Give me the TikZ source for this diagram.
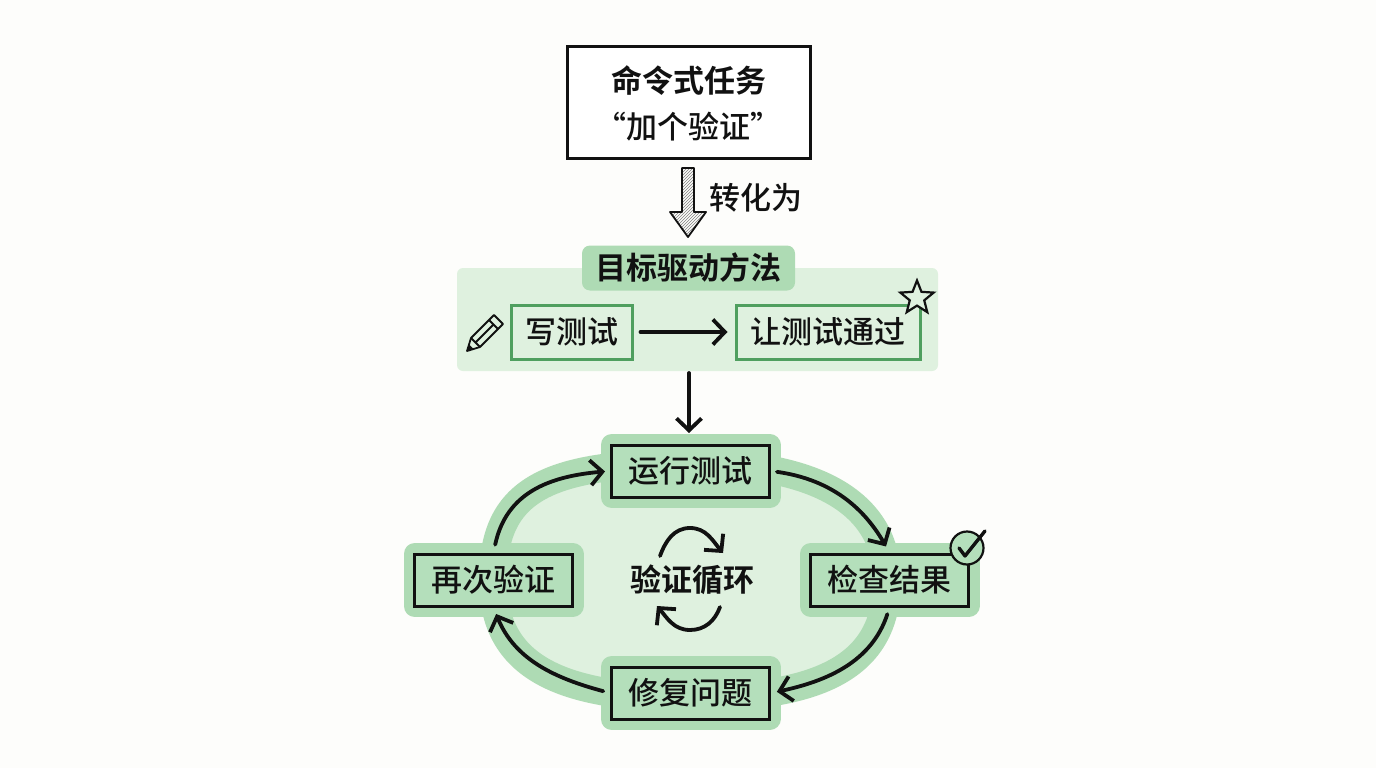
\documentclass[tikz,border=0pt]{standalone}
\usepackage{fontspec}
\setmainfont{Noto Sans CJK SC Medium}[BoldFont=Noto Sans CJK SC Bold]
\usetikzlibrary{arrows.meta,calc,positioning,patterns,shapes.geometric}
\definecolor{paper}{HTML}{FDFDFB}
\definecolor{ringgreen}{HTML}{AEDBB4}
\definecolor{palegreen}{HTML}{DFF1DF}
\definecolor{boxgreen}{HTML}{B4DFBB}
\definecolor{edgegreen}{HTML}{4F9F5F}
\definecolor{inkblack}{HTML}{111111}

\begin{document}
\begin{tikzpicture}[x=1pt,y=-1pt,>={Straight Barb[length=12pt,width=25pt]},
    label/.style={font=\fontsize{31}{36}\selectfont,text=inkblack,inner sep=0pt},
    heavy/.style={label,font=\fontsize{31}{36}\selectfont\bfseries},
    loopbox/.style={label,draw=inkblack,fill=boxgreen,line width=3pt,
      minimum width=158pt,minimum height=52pt,
      preaction={draw=ringgreen,line width=22pt,line join=round}},
    stepbox/.style={label,draw=edgegreen,line width=3pt,minimum height=54pt},
    flow/.style={->,draw=inkblack,line width=3.8pt,line cap=round},
    thin ink/.style={draw=inkblack,line width=1.8pt,line join=round}]

  \fill[paper] (0,0) rectangle (1376,768);
  \useasboundingbox (0,0) rectangle (1376,768);

  % top task
  \node[label,draw=inkblack,fill=white,line width=3pt,minimum width=243pt,minimum height=111pt]
    (task) at (688.5,102.5) {};
  \node[heavy] (tasktitle) at (688.5,81) {命令式任务};
  \node[label] (taskquote) at (688.5,127) {“加个验证”};

  \draw[thin ink,pattern=north east lines,pattern color=gray]
    (682,168) -- (694,168) -- (694,212) -- (706,212) -- (688,237) -- (670,212) -- (682,212) -- cycle;
  \node[label] (turnlabel) at (756,198) {转化为};

  % goal driven method
  \fill[palegreen,rounded corners=6pt] (457,268) rectangle (938,371);
  \node[heavy,fill=ringgreen,rounded corners=8pt,minimum width=213pt,minimum height=45pt]
    (method) at (688.5,268) {目标驱动方法};
  \node[stepbox,minimum width=121pt] (write) at (571.5,332) {写测试};
  \node[stepbox,minimum width=184pt] (pass) at (828,332) {让测试通过};
  \draw[flow,shorten <=7pt,shorten >=7pt] (write) -- (pass);

  \node[star,star points=5,star point ratio=2.3,draw=inkblack,fill=palegreen,line width=2.2pt,
        minimum size=35pt,inner sep=0pt] (prize) at (917,298) {};

  \draw[thin ink,fill=palegreen] (467,351) -- (471,338) -- (494,315) -- (503,324) -- (480,347) -- cycle;
  \draw[thin ink] (471,338) -- (480,347) (489,320) -- (498,329) (476,342) -- (493,325);
  \fill[inkblack] (467,351) -- (469,344.5) -- (473.5,349) -- cycle;

  \draw[flow,shorten >=3pt] (689,373) coordinate (drop) -- (689,436) coordinate (dropend);

  % verify loop
  \draw[draw=ringgreen,fill=palegreen,line width=28pt]
    (493,580) .. controls (493,492) and (542,463) .. (690,463)
    .. controls (818,463) and (887,504) .. (887,580)
    .. controls (887,662) and (828,698) .. (690,698)
    .. controls (552,698) and (493,662) .. (493,580) -- cycle;

  \node[loopbox] (run) at (690.5,471) {运行测试};
  \node[loopbox] (check) at (889.5,580) {检查结果};
  \node[loopbox] (fix) at (690.5,693) {修复问题};
  \node[loopbox] (again) at (493.5,580) {再次验证};

  \draw[flow,shorten <=6pt,shorten >=7pt] (run.east) to[out=-8,in=120] (check.north);
  \draw[flow,shorten <=7pt,shorten >=6pt] (check.south) to[out=-108,in=12] (fix.east);
  \draw[flow,shorten <=7pt,shorten >=7pt] (fix.west) to[out=165,in=-68] (again.south);
  \draw[flow,shorten <=8pt,shorten >=5pt] (again.north) to[out=78,in=185,looseness=1.1] (run.west);

  \node[heavy] (center) at (692,580) {验证循环};
  \draw[flow] (660,556) coordinate (ua) to[out=70,in=180] (690,528) to[out=0,in=130] (723,553) coordinate (ub);
  \draw[flow] (720,607) coordinate (la) to[out=-110,in=0] (690,630) to[out=180,in=-50] (657,606) coordinate (lb);

  \node[circle,draw=inkblack,fill=boxgreen,line width=2.2pt,minimum size=33pt,inner sep=0pt] (tick) at (967,548) {};
  \draw[draw=inkblack,line width=3.4pt,line cap=round,line join=round] (959,548) -- (965,556) -- (985,531);
\end{tikzpicture}
\end{document}
